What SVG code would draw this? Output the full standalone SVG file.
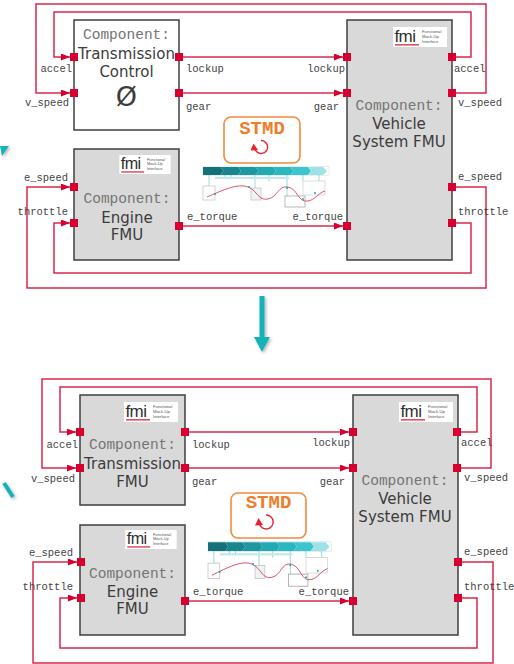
<svg xmlns="http://www.w3.org/2000/svg" xmlns:xlink="http://www.w3.org/1999/xlink" width="514" height="664" viewBox="0 0 514 664">
  <style>
    .box { stroke: #3f3f3f; stroke-width: 1.5; }
    .fmu { fill: #d9d9d9; }
    .plain { fill: #ffffff; }
    .port { fill: #d8002f; }
    .wire { fill: none; stroke: #d92a4c; stroke-width: 1.5; marker-end: url(#head); }
    .lbl { font-family: "Liberation Mono", "Courier New", monospace; font-size: 10.5px; fill: #444444; }
    .end { text-anchor: end; }
    .comp { font-family: "Liberation Mono", "Courier New", monospace; font-size: 14.5px; fill: #747474; text-anchor: middle; }
    .name { font-family: "DejaVu Sans", Verdana, sans-serif; font-size: 15px; fill: #3c3c3c; text-anchor: middle; }
    .big { font-size: 27px; }
    .stmd { font-family: "Liberation Mono", "Courier New", monospace; font-weight: bold; font-size: 19px; fill: #f07d2a; text-anchor: middle; }
    .stmdbox { fill: #ffffff; stroke: #f08a3c; stroke-width: 1.6; }
    .teal { fill: #18b2ba; }
  </style>
  <defs>
    <marker id="head" markerUnits="userSpaceOnUse" markerWidth="10" markerHeight="8" refX="9" refY="3.5" orient="auto">
      <path d="M0,0 L9,3.5 L0,7 z" fill="#d8002f"/>
    </marker>
    <filter id="shadow" x="-50%" y="-20%" width="200%" height="140%">
      <feDropShadow dx="1.5" dy="1.5" stdDeviation="1.4" flood-color="#000" flood-opacity="0.3"/>
    </filter>
    <!-- FMI logo badge -->
    <symbol id="fmi" viewBox="0 0 54 20">
      <rect x="0" y="0" width="54" height="20" fill="#ffffff"/>
      <text x="1.5" y="14.5" font-family="'Liberation Sans', Arial, sans-serif" font-size="17" fill="#2f2f2f" letter-spacing="-0.6">fmi</text>
      <rect x="2" y="17.2" width="24" height="1.3" fill="#d8283f"/>
      <g font-family="'Liberation Sans', Arial, sans-serif" font-size="4.2" fill="#555">
        <text x="29" y="6">Functional</text>
        <text x="29" y="10.8">Mock-Up</text>
        <text x="29" y="15.6">Interface</text>
      </g>
    </symbol>
    <!-- STMD workflow thumbnail -->
    <g id="workflow">
      <rect x="0" y="1.5" width="126" height="9" fill="none" stroke="#cfe6e8" stroke-width="0.6"/>
      <polygon points="0,2 17.5,2 20.5,6 17.5,10 0,10" fill="#16707a"/>
      <polygon points="17.5,2 35,2 38,6 35,10 17.5,10 20.5,6" fill="#1a858e"/>
      <polygon points="35,2 52.5,2 55.5,6 52.5,10 35,10 38,6" fill="#1e98a0"/>
      <polygon points="52.5,2 70,2 73,6 70,10 52.5,10 55.5,6" fill="#22a9b1"/>
      <polygon points="70,2 87.5,2 90.5,6 87.5,10 70,10 73,6" fill="#2ab7bf"/>
      <polygon points="87.5,2 105,2 108,6 105,10 87.5,10 90.5,6" fill="#3ec4cb"/>
      <polygon points="105,2 120,2 124,6 120,10 105,10 108,6" fill="#9fe2e6"/>
      <g stroke="#5fbfc6" stroke-width="0.6">
        <line x1="6" y1="10" x2="6" y2="21"/>
        <line x1="22" y1="10" x2="22" y2="14"/>
        <line x1="28" y1="10" x2="28" y2="14"/>
        <line x1="52" y1="10" x2="52" y2="23"/>
        <line x1="66" y1="10" x2="66" y2="16"/>
        <line x1="84" y1="10" x2="84" y2="31"/>
        <line x1="100" y1="10" x2="100" y2="16"/>
        <line x1="116" y1="10" x2="116" y2="16"/>
      </g>
      <rect x="12" y="12" width="74" height="2" fill="#bfe9ec"/>
      <rect x="0" y="21" width="12" height="14" fill="#ffffff" stroke="#b5b5b5" stroke-width="0.6"/>
      <rect x="48" y="23" width="10" height="12" fill="#eef4f5" stroke="#b5b5b5" stroke-width="0.6"/>
      <rect x="82" y="31" width="20" height="11" fill="#ffffff" stroke="#9a9a9a" stroke-width="0.7"/>
      <rect x="100" y="16" width="22" height="14" fill="#ffffff" stroke="#c5c5c5" stroke-width="0.6"/>
      <path d="M4,32 C20,25 35,18 45,22 C55,26 55,36 65,34 C75,32 75,20 85,22 C95,24 95,38 105,36 C112,35 115,28 122,26" fill="none" stroke="#d6465c" stroke-width="0.9"/>
      <g fill="#1fa7b0">
        <circle cx="12" cy="29" r="1"/>
        <circle cx="46" cy="22" r="1"/>
        <circle cx="84" cy="23" r="1"/>
        <circle cx="100" cy="34" r="1"/>
        <circle cx="112" cy="28" r="1"/>
      </g>
    </g>
  </defs>

  <rect width="514" height="664" fill="#ffffff"/>

  <!-- ===== Upper system: Transmission Control (plain) ===== -->
  <g id="connectors-top">
    <path class="wire" d="M183,57 H343"/>
    <path class="wire" d="M183,93 H343"/>
    <path class="wire" d="M183,226 H343"/>
    <path class="wire" d="M456,57 H471 V12 H54 V57 H70"/>
    <path class="wire" d="M456,93 H486 V4 H36 V93 H70"/>
    <path class="wire" d="M456,223 H471 V273 H54 V223 H70"/>
    <path class="wire" d="M456,187 H486 V288 H27 V187 H70"/>
  </g>

  <g id="transmission-control">
    <rect class="box plain" x="74" y="20" width="105" height="110"/>
    <text class="comp" x="126.5" y="39">Component:</text>
    <text class="name" x="126.5" y="59">Transmission</text>
    <text class="name" x="126.5" y="77">Control</text>
    <text class="name big" x="126.5" y="106">Ø</text>
    <rect class="port" x="70" y="53" width="8" height="8"/>
    <rect class="port" x="70" y="89" width="8" height="8"/>
    <rect class="port" x="175" y="53" width="8" height="8"/>
    <rect class="port" x="175" y="89" width="8" height="8"/>
    <text class="lbl end" x="72" y="72">accel</text>
    <text class="lbl end" x="69" y="106">v_speed</text>
    <text class="lbl" x="186" y="72">lockup</text>
    <text class="lbl" x="186" y="110">gear</text>
  </g>

  <g id="engine-top">
    <rect class="box fmu" x="74" y="149" width="105" height="111"/>
    <use href="#fmi" x="118" y="155" width="54" height="19"/>
    <text class="comp" x="127" y="203">Component:</text>
    <text class="name" x="127" y="223">Engine</text>
    <text class="name" x="127" y="240">FMU</text>
    <rect class="port" x="70" y="183" width="8" height="8"/>
    <rect class="port" x="70" y="219" width="8" height="8"/>
    <rect class="port" x="175" y="222" width="8" height="8"/>
    <text class="lbl end" x="68" y="181">e_speed</text>
    <text class="lbl end" x="68" y="215">throttle</text>
    <text class="lbl" x="187" y="220">e_torque</text>
  </g>

  <g id="vehicle-top">
    <rect class="box fmu" x="347" y="20" width="105" height="240"/>
    <use href="#fmi" x="393" y="27" width="54" height="20"/>
    <text class="comp" x="399" y="110">Component:</text>
    <text class="name" x="399" y="129">Vehicle</text>
    <text class="name" x="399" y="147">System FMU</text>
    <rect class="port" x="343" y="53" width="8" height="8"/>
    <rect class="port" x="343" y="89" width="8" height="8"/>
    <rect class="port" x="343" y="222" width="8" height="8"/>
    <rect class="port" x="448" y="53" width="8" height="8"/>
    <rect class="port" x="448" y="89" width="8" height="8"/>
    <rect class="port" x="448" y="183" width="8" height="8"/>
    <rect class="port" x="448" y="219" width="8" height="8"/>
    <text class="lbl end" x="345" y="72">lockup</text>
    <text class="lbl end" x="339" y="110">gear</text>
    <text class="lbl end" x="343" y="220">e_torque</text>
    <text class="lbl" x="454" y="72">accel</text>
    <text class="lbl" x="458" y="106">v_speed</text>
    <text class="lbl" x="458" y="180">e_speed</text>
    <text class="lbl" x="458" y="215">throttle</text>
  </g>

  <g id="stmd-top">
    <rect class="stmdbox" x="224" y="117" width="76" height="46" rx="7"/>
    <text class="stmd" x="262" y="134">STMD</text>
    <path d="M261,140.5 A6.5,6.5 0 1 1 254.8,148.5" fill="none" stroke="#e5232f" stroke-width="1.4"/>
    <polygon points="250.5,150.5 258,150 253.5,143.5" fill="#e5232f"/>
    <use href="#workflow" transform="translate(203,165)"/>
  </g>

  <!-- transition arrow -->
  <g id="step-arrow" filter="url(#shadow)">
    <rect class="teal" x="259.5" y="296" width="5" height="42"/>
    <polygon class="teal" points="254,337 270,337 262,352"/>
  </g>
  <g id="edge-arrows" filter="url(#shadow)">
    <polygon class="teal" points="0,146 9,146 2,156"/>
    <line x1="4" y1="483" x2="13" y2="497" stroke="#18b2ba" stroke-width="4"/>
  </g>

  <!-- ===== Lower system: Transmission FMU ===== -->
  <g id="connectors-bottom">
    <path class="wire" d="M189,432 H349"/>
    <path class="wire" d="M189,468 H349"/>
    <path class="wire" d="M189,601 H349"/>
    <path class="wire" d="M461,432 H477 V387 H60 V432 H76"/>
    <path class="wire" d="M461,468 H491 V379 H42 V468 H76"/>
    <path class="wire" d="M462,598 H477 V648 H60 V598 H77"/>
    <path class="wire" d="M462,562 H493 V663 H33 V562 H77"/>
  </g>

  <g id="transmission-fmu">
    <rect class="box fmu" x="80" y="395" width="105" height="110"/>
    <use href="#fmi" x="124" y="402" width="54" height="20"/>
    <text class="comp" x="132.5" y="449">Component:</text>
    <text class="name" x="132.5" y="469">Transmission</text>
    <text class="name" x="132.5" y="487">FMU</text>
    <rect class="port" x="76" y="428" width="8" height="8"/>
    <rect class="port" x="76" y="464" width="8" height="8"/>
    <rect class="port" x="181" y="428" width="8" height="8"/>
    <rect class="port" x="181" y="464" width="8" height="8"/>
    <text class="lbl end" x="78" y="448">accel</text>
    <text class="lbl end" x="75" y="482">v_speed</text>
    <text class="lbl" x="192" y="448">lockup</text>
    <text class="lbl" x="192" y="485">gear</text>
  </g>

  <g id="engine-bottom">
    <rect class="box fmu" x="80" y="525" width="105" height="110"/>
    <use href="#fmi" x="124" y="530" width="54" height="19"/>
    <text class="comp" x="132.5" y="578">Component:</text>
    <text class="name" x="132.5" y="597">Engine</text>
    <text class="name" x="132.5" y="614">FMU</text>
    <rect class="port" x="77" y="558" width="8" height="8"/>
    <rect class="port" x="77" y="594" width="8" height="8"/>
    <rect class="port" x="181" y="597" width="8" height="8"/>
    <text class="lbl end" x="73" y="556">e_speed</text>
    <text class="lbl end" x="73" y="590">throttle</text>
    <text class="lbl" x="193" y="595">e_torque</text>
  </g>

  <g id="vehicle-bottom">
    <rect class="box fmu" x="353" y="395" width="105" height="240"/>
    <use href="#fmi" x="399" y="402" width="54" height="20"/>
    <text class="comp" x="405" y="485">Component:</text>
    <text class="name" x="405" y="504">Vehicle</text>
    <text class="name" x="405" y="522">System FMU</text>
    <rect class="port" x="349" y="428" width="8" height="8"/>
    <rect class="port" x="349" y="464" width="8" height="8"/>
    <rect class="port" x="349" y="597" width="8" height="8"/>
    <rect class="port" x="453" y="428" width="8" height="8"/>
    <rect class="port" x="453" y="464" width="8" height="8"/>
    <rect class="port" x="454" y="558" width="8" height="8"/>
    <rect class="port" x="454" y="594" width="8" height="8"/>
    <text class="lbl end" x="350" y="446">lockup</text>
    <text class="lbl end" x="345" y="485">gear</text>
    <text class="lbl end" x="349" y="595">e_torque</text>
    <text class="lbl" x="461" y="446">accel</text>
    <text class="lbl" x="464" y="481">v_speed</text>
    <text class="lbl" x="464" y="555">e_speed</text>
    <text class="lbl" x="464" y="590">throttle</text>
  </g>

  <g id="stmd-bottom">
    <rect class="stmdbox" x="231" y="493" width="75" height="45" rx="7"/>
    <text class="stmd" x="268.5" y="508">STMD</text>
    <path d="M266,515 A7,7 0 1 1 259.3,523.5" fill="none" stroke="#e5232f" stroke-width="1.4"/>
    <polygon points="255,525.5 263,525 258.5,518" fill="#e5232f"/>
    <use href="#workflow" transform="translate(208,540) scale(0.98,1.1)"/>
  </g>
</svg>
